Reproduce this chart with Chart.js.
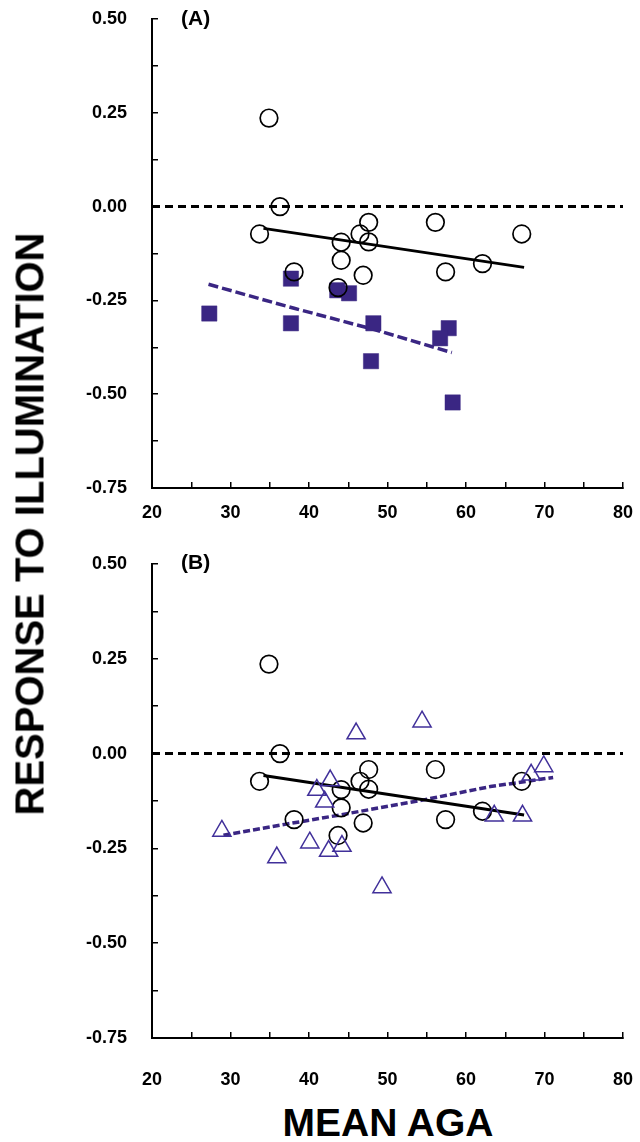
<!DOCTYPE html>
<html>
<head>
<meta charset="utf-8">
<script src="https://cdn.jsdelivr.net/npm/chart.js@4.4.1/dist/chart.umd.min.js"></script>
<style>
  html, body { margin: 0; padding: 0; background: #fff; }
  body { width: 640px; height: 1142px; position: relative; overflow: hidden; font-family: "Liberation Sans", Arial, sans-serif; }
  .cw { position: absolute; left: 0; width: 640px; }
  .panel { position: absolute; font-weight: bold; font-size: 21px; color: #000; }
  #ytitle { position: absolute; left: 30px; top: 524px; transform: translate(-50%, -50%) rotate(-90deg); white-space: nowrap; font-weight: bold; font-size: 40px; color: #000; }
  #xtitle { position: absolute; left: 388px; top: 1123px; transform: translate(-50%, -50%); white-space: nowrap; font-weight: bold; font-size: 39px; color: #000; }
</style>
</head>
<body>
<div class="cw" style="top:0;height:540px"><canvas id="c1" width="640" height="540"></canvas></div>
<div class="cw" style="top:545px;height:545px"><canvas id="c2" width="640" height="545"></canvas></div>
<div class="panel" style="left:181px;top:6px">(A)</div>
<div class="panel" style="left:181px;top:550px">(B)</div>
<div id="ytitle">RESPONSE TO ILLUMINATION</div>
<div id="xtitle">MEAN AGA</div>
<script>
// ---- data ----
const circleAge  = [34.9, 36.3, 33.7, 44.1, 46.5, 47.6, 47.6, 56.1, 67.1, 44.1, 38.1, 46.9, 57.4, 62.1, 43.7];
const circleResp = [0.236, 0.000, -0.073, -0.095, -0.073, -0.042, -0.094, -0.042, -0.073, -0.143, -0.174, -0.183, -0.174, -0.152, -0.216];

const squareAge  = [27.3, 37.7, 37.7, 43.6, 45.1, 48.2, 47.9, 57.8, 56.7, 58.3];
const squareResp = [-0.285, -0.192, -0.311, -0.223, -0.231, -0.311, -0.412, -0.324, -0.351, -0.522];

const triAge  = [46.0, 54.4, 69.9, 68.3, 42.7, 41.0, 42.0, 63.6, 67.2, 28.9, 40.1, 44.2, 42.5, 35.9, 49.3];
const triResp = [0.053, 0.084, -0.034, -0.056, -0.071, -0.096, -0.127, -0.164, -0.164, -0.204, -0.235, -0.244, -0.257, -0.274, -0.353];

const fitCircleAge  = [34.2, 67.4];
const fitCircleResp = [-0.058, -0.162];
const fitSquareAge  = [27.2, 35.5, 38.1, 48.2, 58.2];
const fitSquareResp = [-0.207, -0.256, -0.271, -0.327, -0.389];
const fitTriAge  = [29.1, 37.1, 43.9, 54.6, 63.1, 71.1];
const fitTriResp = [-0.215, -0.186, -0.162, -0.122, -0.087, -0.063];

const zeroAge = [20, 80];
const zeroResp = [0, 0];

const xMin = 20, xMax = 80, xStep = 5, xLabelStep = 10;
const yMin = -0.75, yMax = 0.5, yStep = 0.125, yLabelStep = 0.25;

// ---- helpers ----
const pts = (xs, ys) => xs.map((x, i) => ({ x: x, y: ys[i] }));
const PURPLE = '#3a2683';
const TRI = '#41309a';
const FONT = '"Liberation Sans", Arial, sans-serif';

function noPad(s) { s.paddingTop = 0; s.paddingBottom = 0; s.paddingLeft = 0; s.paddingRight = 0; }

function scales(xPad) {
  return {
    x: {
      type: 'linear', min: xMin, max: xMax,
      afterFit: s => { s.height = 52; noPad(s); },
      border: { display: true, color: '#000', width: 2 },
      grid: { drawOnChartArea: false, drawTicks: true, tickLength: -6, color: '#000', lineWidth: 1.5 },
      ticks: {
        stepSize: xStep, autoSkip: false, maxRotation: 0, padding: xPad, color: '#000',
        font: { family: FONT, size: 18, weight: 'bold' },
        callback: v => (Math.abs(v / xLabelStep - Math.round(v / xLabelStep)) < 1e-6) ? String(v) : ''
      }
    },
    y: {
      type: 'linear', min: yMin, max: yMax,
      afterFit: s => { s.width = 152; noPad(s); },
      border: { display: true, color: '#000', width: 2 },
      grid: { drawOnChartArea: false, drawTicks: true, tickLength: -6, color: '#000', lineWidth: 1.5 },
      ticks: {
        stepSize: yStep, autoSkip: false, padding: 31, color: '#000',
        font: { family: FONT, size: 18, weight: 'bold' },
        callback: v => (Math.abs(v / yLabelStep - Math.round(v / yLabelStep)) < 1e-6) ? v.toFixed(2) : ''
      }
    }
  };
}

function lineDs(xs, ys, color, width, dash) {
  return { type: 'line', data: pts(xs, ys), borderColor: color, borderWidth: width, borderDash: dash,
           pointRadius: 0, showLine: true, fill: false, tension: 0 };
}

const circleDs = () => ({ data: pts(circleAge, circleResp), pointStyle: 'circle', pointRadius: 8.8,
  pointBorderWidth: 1.7, pointBorderColor: '#000', pointBackgroundColor: 'rgba(0,0,0,0)', showLine: false });

function makeChart(id, datasets, xPad) {
  return new Chart(document.getElementById(id), {
    type: 'scatter',
    data: { datasets: datasets },
    options: {
      responsive: false, animation: false, events: [],
      layout: { padding: { top: 19, right: 17, left: 0, bottom: 0 } },
      plugins: { legend: { display: false }, tooltip: { enabled: false } },
      scales: scales(xPad)
    }
  });
}

makeChart('c1', [
  lineDs(zeroAge, zeroResp, '#000', 3, [8, 5]),
  circleDs(),
  { data: pts(squareAge, squareResp), pointStyle: 'rect', pointRadius: 10.8, pointBorderWidth: 0.5,
    pointBorderColor: PURPLE, pointBackgroundColor: PURPLE, showLine: false },
  lineDs(fitCircleAge, fitCircleResp, '#000', 3, []),
  lineDs(fitSquareAge, fitSquareResp, PURPLE, 3.5, [10, 4])
], 20);

makeChart('c2', [
  lineDs(zeroAge, zeroResp, '#000', 3, [8, 5]),
  { data: pts(triAge, triResp), pointStyle: 'triangle', pointRadius: 10.5, pointBorderWidth: 1.5,
    pointBorderColor: TRI, pointBackgroundColor: 'rgba(0,0,0,0)', showLine: false },
  circleDs(),
  lineDs(fitCircleAge, fitCircleResp, '#000', 3, []),
  lineDs(fitTriAge, fitTriResp, PURPLE, 3.5, [7, 3])
], 37);
</script>
</body>
</html>
